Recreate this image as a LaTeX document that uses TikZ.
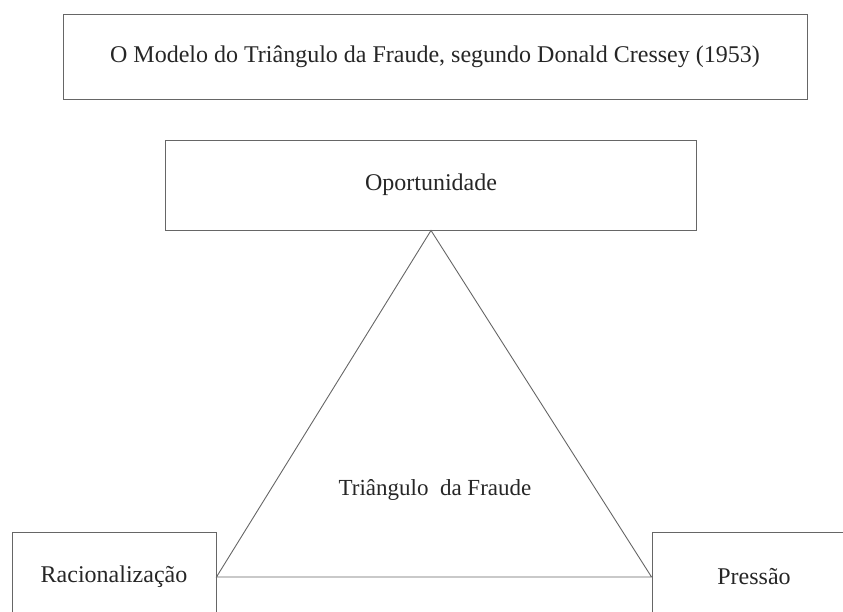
\documentclass[tikz,border=0pt]{standalone}
\usepackage{fontspec}
\setmainfont{Liberation Serif}
\usetikzlibrary{positioning}
\tikzset{%
	titlebox/.style = {draw=black!60, line width=0.9pt, rectangle, minimum width=744pt, minimum height=85pt, text centered},
	factor/.style   = {draw=black!60, line width=0.9pt, rectangle, minimum height=90pt, text centered},
	side/.style     = {line width=0.9pt, draw=black!60},
}

\begin{document}
\begin{tikzpicture}[x=1pt,y=-1pt,every node/.style={font=\fontsize{24}{28}\selectfont,text=black!85}]
			\useasboundingbox (0,0) rectangle (843,611);
			\clip (0,0) rectangle (843,611);
			\node[titlebox] (title) at (435,56.5) {O Modelo do Triângulo da Fraude, segundo Donald Cressey (1953)};
			\node[factor,minimum width=531pt] (opor) at (431,185) {Oportunidade};
			\node[factor,minimum width=204pt] (rac) at (114,577) {Racionalização};
			\node[factor,minimum width=204pt] (pres) at (754,577) {Pressão};
			\node[font=\fontsize{23}{27}\selectfont] (tri) at (435,490) {Triângulo\ \ da Fraude};
			\draw[side] (opor.south) -- (rac.east) -- (pres.west) -- cycle;
			\end{tikzpicture}
\end{document}
